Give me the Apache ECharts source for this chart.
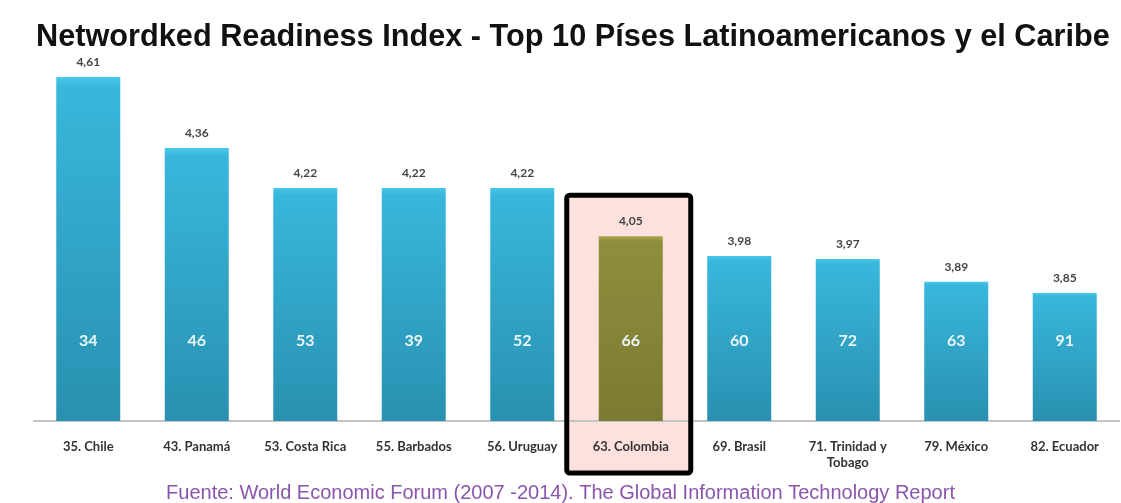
<!DOCTYPE html>
<html>
<head>
<meta charset="utf-8">
<script src="https://cdn.jsdelivr.net/npm/echarts@6/dist/echarts.min.js"></script>
<style>
  html, body { margin: 0; padding: 0; background: #fff; }
  #main { width: 1121px; height: 503px; }
</style>
</head>
<body>
<div id="main"></div>
<script>
// datos del grafico
const paises = ['35. Chile', '43. Panamá', '53. Costa Rica', '55. Barbados', '56. Uruguay',
  '63. Colombia', '69. Brasil', '71. Trinidad y\nTobago', '79. México', '82. Ecuador']
const indice = [4.61, 4.36, 4.22, 4.22, 4.22, 4.05, 3.98, 3.97, 3.89, 3.85]
const ranking = [34, 46, 53, 39, 52, 66, 60, 72, 63, 91]
const destacado = '63. Colombia'

const azul = new echarts.graphic.LinearGradient(0, 0, 0, 1, [
  { offset: 0, color: '#45c8ea' },
  { offset: 0.03, color: '#38b7dc' },
  { offset: 1, color: '#2990b0' }
])
const oliva = new echarts.graphic.LinearGradient(0, 0, 0, 1, [
  { offset: 0, color: '#a6a64e' },
  { offset: 0.03, color: '#8f8e3d' },
  { offset: 1, color: '#7b7a32' }
])

const chart = echarts.init(document.getElementById('main'))

const option = {
  animation: false,
  title: [
    {
      text: 'Networdked Readiness Index - Top 10 Píses Latinoamericanos y el Caribe',
      left: 31,
      top: 17,
      textStyle: { fontFamily: 'Liberation Sans', fontSize: 30.7, fontWeight: 'bold', color: '#111' }
    },
    {
      text: 'Fuente: World Economic Forum (2007 -2014). The Global Information Technology Report',
      left: 'center',
      top: 478,
      textStyle: { fontFamily: 'Liberation Sans', fontSize: 20, fontWeight: 'normal', color: '#8a56ad' }
    }
  ],
  grid: { left: 34, right: 2, top: 23, bottom: 82 },
  xAxis: {
    type: 'category',
    data: paises,
    axisTick: { show: false },
    axisLine: { lineStyle: { color: '#c4c4c4', width: 2 } },
    axisLabel: {
      interval: 0,
      margin: 18,
      lineHeight: 16,
      fontFamily: 'Lato',
      fontWeight: 'bold',
      fontSize: 13,
      color: '#333'
    }
  },
  yAxis: { type: 'value', min: 3.4, max: 4.8, show: false },
  series: [
    {
      type: 'bar',
      barWidth: 64,
      z: 3,
      data: indice.map((v, i) => ({
        value: v,
        itemStyle: { color: paises[i] === destacado ? oliva : azul }
      })),
      label: {
        show: true,
        position: 'top',
        distance: 9,
        fontFamily: 'Lato',
        fontWeight: 'bold',
        fontSize: 12,
        color: '#444',
        formatter: p => p.value.toFixed(2).replace('.', ',')
      }
    },
    {
      // etiquetas del ranking dentro de la barra
      type: 'bar',
      barWidth: 64,
      barGap: '-100%',
      silent: true,
      z: 4,
      itemStyle: { color: 'rgba(0,0,0,0)' },
      data: indice,
      label: {
        show: true,
        position: 'insideBottom',
        distance: 72,
        fontFamily: 'Lato',
        fontWeight: 'bold',
        fontSize: 16,
        color: '#eaf6fa',
        formatter: p => ranking[p.dataIndex]
      }
    }
  ]
}
chart.setOption(option)

// recuadro de Colombia
const idx = paises.indexOf(destacado)
const cx = chart.convertToPixel({ xAxisIndex: 0 }, paises[idx])
const yTop = chart.convertToPixel({ yAxisIndex: 0 }, indice[idx]) - 41
const yBottom = 473
chart.setOption({
  graphic: [
    {
      type: 'rect',
      z: -5,
      shape: { x: cx - 64, y: yTop, width: 124, height: yBottom - yTop, r: 3 },
      style: { fill: '#fde1df' }
    },
    {
      type: 'rect',
      z: 100,
      shape: { x: cx - 64, y: yTop, width: 124, height: yBottom - yTop, r: 3 },
      style: { fill: 'none', stroke: '#000', lineWidth: 5 }
    }
  ]
})
</script>
</body>
</html>
